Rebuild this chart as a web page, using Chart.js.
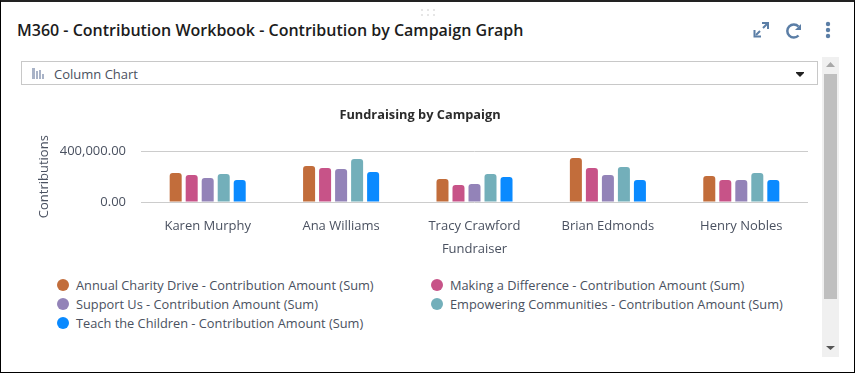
<!DOCTYPE html>
<html>
<head>
<meta charset="utf-8">
<script src="https://cdn.jsdelivr.net/npm/chart.js@4"></script>
<style>
html, body { margin: 0; padding: 0; background: #fff; }
body { width: 855px; height: 373px; position: relative; overflow: hidden; font-family: "Open Sans", sans-serif; color: #3f4a5a; }
.frame { position: absolute; left: 0; top: 0; width: 855px; height: 373px; box-sizing: border-box; border-left: 1px solid #000; border-right: 1px solid #000; border-top: 2px solid #222; border-bottom: 1px solid #000; }
.heading { position: absolute; left: 17px; top: 18px; font-size: 16px; font-weight: 600; color: #1c1c1c; line-height: 24px; white-space: nowrap; }
.select { position: absolute; left: 21px; top: 61px; width: 797px; height: 24px; box-sizing: border-box; border: 1px solid #c8c8c8; }
.select span { position: absolute; left: 32px; top: 2.500px; font-size: 13px; line-height: 18px; color: #4a5160; }
.track { position: absolute; left: 822px; top: 57px; width: 17px; height: 300px; background: #f0f0f0; }
.thumb { position: absolute; left: 824px; top: 74px; width: 13px; height: 225px; background: #bfbfbf; }
.chartbox { position: absolute; left: 22px; top: 100px; width: 796px; height: 160px; }
.legend { position: absolute; font-size: 12.8px; line-height: 19px; white-space: nowrap; color: #4a5160; }
.legend i { position: absolute; left: -19px; top: 3px; width: 12px; height: 12px; border-radius: 50%; }
svg { position: absolute; }
</style>
</head>
<body>
<div class="frame"></div>
<svg style="left:420px;top:8px" width="16" height="9"><g fill="#e6e6e6"><rect x="1" y="1" width="2" height="2"/><rect x="7" y="1" width="2" height="2"/><rect x="13" y="1" width="2" height="2"/><rect x="1" y="6" width="2" height="2"/><rect x="7" y="6" width="2" height="2"/><rect x="13" y="6" width="2" height="2"/></g></svg>
<div class="heading">M360 - Contribution Workbook - Contribution by Campaign Graph</div>
<svg style="left:752px;top:20px" width="86" height="20" fill="none" stroke="#5b7ea6" stroke-width="2">
<path d="M4 15 L8 11 M11 8 L15 4"/>
<path d="M10 3 H16 V9 M2.500 10 V16.500 H9" stroke-width="2"/>
<path d="M46.500 6.500 A6.500 6.500 0 1 0 46.500 15.500" stroke-width="2.500"/>
<path d="M49 4 V10 H43 Z" fill="#5b7ea6" stroke="none"/>
<g fill="#5b7ea6" stroke="none"><circle cx="76" cy="4" r="2.200"/><circle cx="76" cy="10" r="2.200"/><circle cx="76" cy="16" r="2.200"/></g>
</svg>
<div class="select"><span>Column Chart</span></div>
<svg style="left:32px;top:68px" width="13" height="12"><g fill="#a9b3c7"><rect x="0" y="0" width="3" height="11"/><rect x="4" y="3" width="2" height="8"/><rect x="7" y="2" width="2" height="9"/><rect x="10" y="6" width="2" height="5"/></g></svg>
<svg style="left:796px;top:72px" width="8" height="5"><path d="M0 0 H8 V1 L4 5 L0 1 Z" fill="#222"/></svg>
<div class="track"></div>
<div class="thumb"></div>
<svg style="left:826px;top:62px" width="9" height="6"><path d="M0 5 H9 L4.500 0 Z" fill="#a8a8a8"/></svg>
<svg style="left:826px;top:345px" width="9" height="6"><path d="M0 1 H9 L4.500 5 Z" fill="#555"/></svg>
<div class="chartbox"><canvas id="myChart"></canvas></div>
<div id="legend"></div>
<script>
const fundraisers = ['Karen Murphy', 'Ana Williams', 'Tracy Crawford', 'Brian Edmonds', 'Henry Nobles'];
const annualCharity = [229000, 284000, 182000, 347000, 205000];
const makingDifference = [213000, 268000, 134000, 268000, 174000];
const supportUs = [189000, 261000, 142000, 213000, 174000];
const empowering = [221000, 340000, 221000, 276000, 229000];
const teachChildren = [174000, 237000, 197000, 174000, 174000];
const seriesNames = [
    'Annual Charity Drive - Contribution Amount (Sum)',
    'Making a Difference - Contribution Amount (Sum)',
    'Support Us - Contribution Amount (Sum)',
    'Empowering Communities - Contribution Amount (Sum)',
    'Teach the Children - Contribution Amount (Sum)'
];
const seriesColors = ['#c26d3b', '#c75388', '#9383b8', '#73afba', '#0a8aff'];
const seriesValues = [annualCharity, makingDifference, supportUs, empowering, teachChildren];
const yTicks = [0, 400000];

const fontFamily = '"Open Sans", sans-serif';
const textColor = '#4a5160';

const datasets = seriesNames.map(function (name, i) {
    return {
        label: name,
        data: seriesValues[i],
        backgroundColor: seriesColors[i],
        borderRadius: { topLeft: 3, topRight: 3 },
        borderSkipped: 'bottom',
        categoryPercentage: 0.6,
        barPercentage: 0.75
    };
});

new Chart(document.getElementById('myChart').getContext('2d'), {
    type: 'bar',
    data: { labels: fundraisers, datasets: datasets },
    options: {
        responsive: true,
        maintainAspectRatio: false,
        animation: false,
        layout: { padding: { left: 10, right: 10 } },
        plugins: {
            legend: { display: false },
            tooltip: { enabled: false },
            title: {
                display: true,
                text: 'Fundraising by Campaign',
                color: '#2b2b2b',
                font: { family: fontFamily, size: 12.8, weight: 'bold' },
                padding: { top: 7.500, bottom: 28.500 }
            }
        },
        scales: {
            x: {
                grid: { display: false },
                border: { display: false },
                ticks: { color: textColor, font: { family: fontFamily, size: 13 }, padding: 8, maxRotation: 0 },
                title: { display: true, text: 'Fundraiser', color: textColor, font: { family: fontFamily, size: 13 }, padding: { top: 4, bottom: 3 } },
                afterFit: function (scale) { scale.height = 58; }
            },
            y: {
                min: 0,
                max: 400000,
                afterBuildTicks: function (scale) {
                    scale.ticks = yTicks.map(function (v) { return { value: v }; });
                },
                grid: { color: '#cccccc', drawTicks: false },
                border: { display: false },
                ticks: {
                    color: textColor,
                    padding: 15,
                    font: { family: fontFamily, size: 13 },
                    callback: function (value) {
                        return value.toLocaleString('en-US', { minimumFractionDigits: 2, maximumFractionDigits: 2 });
                    }
                },
                title: { display: true, text: 'Contributions', color: textColor, font: { family: fontFamily, size: 13 }, padding: { top: 4, bottom: 0 } },
                afterFit: function (scale) { scale.width = 109; }
            }
        }
    }
});

// legend sits in two columns, so it is laid out by hand
const legendSlots = [[76, 276], [450, 276], [76, 295], [450, 295], [76, 314]];
seriesNames.forEach(function (name, i) {
    const item = document.createElement('div');
    item.className = 'legend';
    item.style.left = legendSlots[i][0] + 'px';
    item.style.top = legendSlots[i][1] + 'px';
    item.innerHTML = '<i style="background:' + seriesColors[i] + '"></i>' + name;
    document.getElementById('legend').appendChild(item);
});
</script>
</body>
</html>
